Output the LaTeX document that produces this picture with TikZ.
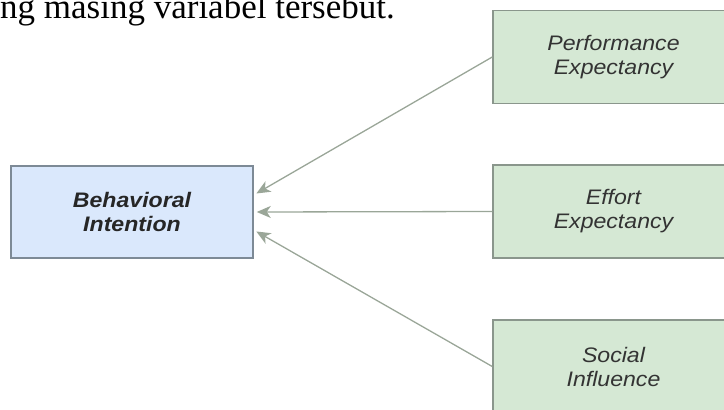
\documentclass[tikz,border=0pt]{standalone}
\usepackage{fontspec}
\setmainfont{Liberation Serif}
\newfontfamily\diagfont[FakeStretch=1.1]{Liberation Sans}
\usepackage{xcolor}
\usepackage{tikz}
\usetikzlibrary{arrows.meta,positioning}
\definecolor{biru}{HTML}{DAE8FC}
\definecolor{birugaris}{HTML}{7D8A96}
\definecolor{hijau}{HTML}{D5E8D4}
\definecolor{hijaugaris}{HTML}{8A968C}
\definecolor{panahwarna}{HTML}{9AA698}
\definecolor{teks}{HTML}{333333}
\tikzset{
  kotak/.style={draw=hijaugaris,fill=hijau,line width=1.5pt,align=center,text=teks,
    font=\diagfont\fontsize{21}{24}\selectfont\itshape,minimum width=241pt,minimum height=93pt,inner sep=0pt},
  kotakbiru/.style={kotak,draw=birugaris,fill=biru,text=black!85,minimum width=242pt,minimum height=92pt,
    font=\diagfont\fontsize{21}{24}\selectfont\bfseries\itshape},
  panah/.style={-{Stealth[length=14pt,width=12pt,inset=4pt]},line width=1.3pt,panahwarna,shorten >=3pt},
}

\begin{document}
\begin{tikzpicture}[x=1pt,y=-1pt]
  \useasboundingbox (0,0) rectangle (724,410);
  \node[anchor=base west,inner sep=0pt,font=\fontsize{35}{40}\selectfont] (kalimat) at (0,18) {ng masing variabel tersebut.};
  \node[kotakbiru] (bi) at (132,212) {Behavioral\\Intention};
  \node[kotak] (pe) at (613.5,57) {Performance\\Expectancy};
  \node[kotak] (ee) at (613.5,211.5) {Effort\\Expectancy};
  \node[kotak] (si) at (613.5,366.5) {Social\\Influence};
  \draw[panah] (pe.west) -- ([yshift=17pt]bi.east);
  \draw[panah] (ee.west) -- (bi.east);
  \draw[panah] (si.west) -- ([yshift=-18pt]bi.east);
\end{tikzpicture}
\end{document}
